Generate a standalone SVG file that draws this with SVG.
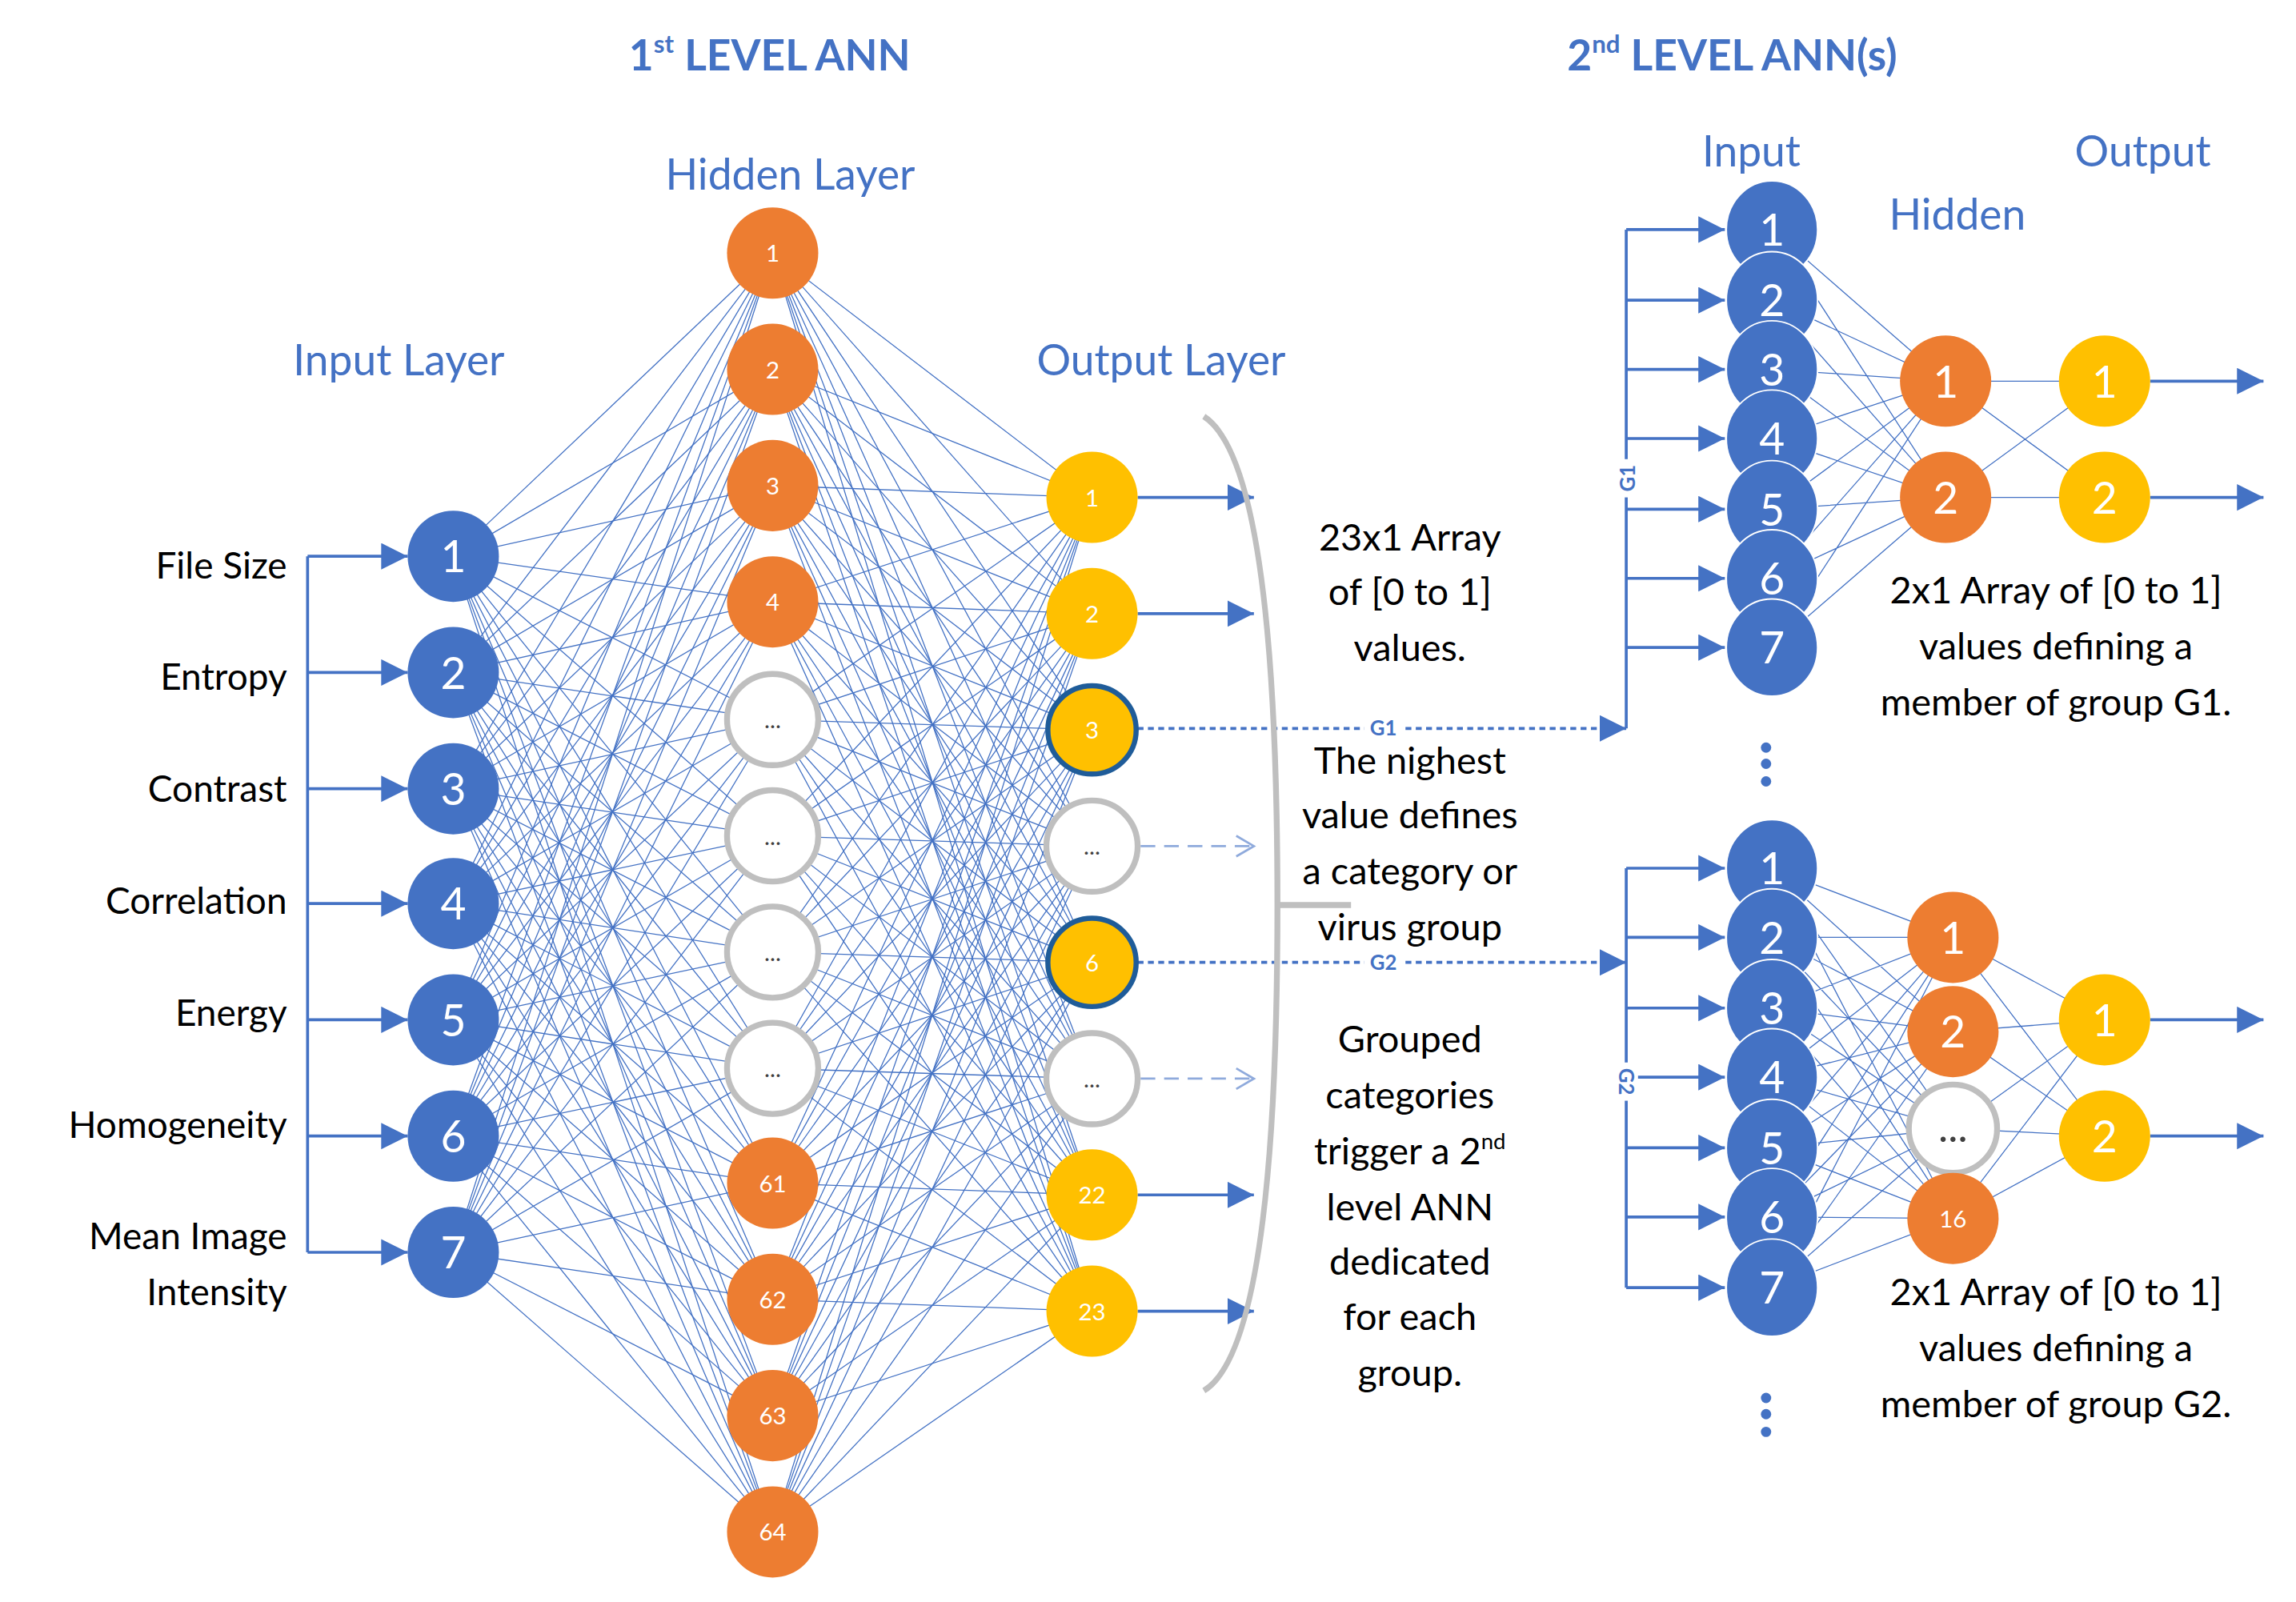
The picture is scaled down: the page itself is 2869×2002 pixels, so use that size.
<svg xmlns="http://www.w3.org/2000/svg" width="2869" height="2002" viewBox="0 0 2869 2002">
<defs>
<style>
text{font-family:Lato,"Open Sans","Liberation Sans",sans-serif}
.t{fill:#4472C4;font-size:29px;text-anchor:middle}
.h{fill:#4472C4;font-size:29px;font-weight:bold;text-anchor:middle}
.lab{fill:#000;font-size:25px;text-anchor:end}
.d{fill:#000;font-size:25.5px;text-anchor:middle}
.w{stroke:#4472C4;stroke-width:0.7;fill:none;stroke-linejoin:round}
.a{stroke:#4472C4;stroke-width:2;fill:none}
.in{fill:#4472C4}
.hid{fill:#ED7D31}
.out{fill:#FFC000}
.emp{fill:#fff;stroke:#BFBFBF;stroke-width:4}
.nb{fill:#fff;font-size:30px;text-anchor:middle}
.ns{fill:#fff;font-size:16px;text-anchor:middle}
.ne{fill:#404040;font-size:16px;text-anchor:middle}
.e2{fill:#4472C4;stroke:#fff;stroke-width:1}
.gl{fill:#4472C4;font-size:14px;font-weight:bold;text-anchor:middle}
</style>
<marker id="ar" markerUnits="userSpaceOnUse" markerWidth="20" markerHeight="20" refX="18" refY="9" orient="auto"><path d="M0 0 L18 9 L0 18Z" fill="#4472C4"/></marker>
<marker id="ao" markerUnits="userSpaceOnUse" markerWidth="20" markerHeight="20" refX="14" refY="8" orient="auto"><path d="M2 1 L14 8 L2 15" fill="none" stroke="#8FAADC" stroke-width="1.5"/></marker>
</defs>
<rect width="2869" height="2002" fill="#fff"/>
<g transform="scale(1.839)">
<g id="titles">
<text class="h" x="523" y="48">1<tspan font-size="17" dy="-12">st</tspan><tspan dy="12"> LEVEL ANN</tspan></text>
<text class="h" x="1177" y="48">2<tspan font-size="17" dy="-12">nd</tspan><tspan dy="12"> LEVEL ANN(s)</tspan></text>
<text class="t" x="537" y="129">Hidden Layer</text>
<text class="t" x="271" y="255">Input Layer</text>
<text class="t" x="789" y="255">Output Layer</text>
<text class="t" x="1190" y="113">Input</text>
<text class="t" x="1330" y="156">Hidden</text>
<text class="t" x="1456" y="113">Output</text>
</g>
<g id="connectors">
<path class="w" d="M308 378 L525 172 308 378 525 251 308 378 525 330 308 378 525 409 308 378 525 489 308 378 525 568 308 378 525 647 308 378 525 726 308 378 525 804 308 378 525 883 308 378 525 962 308 378 525 1041"/>
<path class="w" d="M308 457 L525 172 308 457 525 251 308 457 525 330 308 457 525 409 308 457 525 489 308 457 525 568 308 457 525 647 308 457 525 726 308 457 525 804 308 457 525 883 308 457 525 962 308 457 525 1041"/>
<path class="w" d="M308 536 L525 172 308 536 525 251 308 536 525 330 308 536 525 409 308 536 525 489 308 536 525 568 308 536 525 647 308 536 525 726 308 536 525 804 308 536 525 883 308 536 525 962 308 536 525 1041"/>
<path class="w" d="M308 614 L525 172 308 614 525 251 308 614 525 330 308 614 525 409 308 614 525 489 308 614 525 568 308 614 525 647 308 614 525 726 308 614 525 804 308 614 525 883 308 614 525 962 308 614 525 1041"/>
<path class="w" d="M308 693 L525 172 308 693 525 251 308 693 525 330 308 693 525 409 308 693 525 489 308 693 525 568 308 693 525 647 308 693 525 726 308 693 525 804 308 693 525 883 308 693 525 962 308 693 525 1041"/>
<path class="w" d="M308 772 L525 172 308 772 525 251 308 772 525 330 308 772 525 409 308 772 525 489 308 772 525 568 308 772 525 647 308 772 525 726 308 772 525 804 308 772 525 883 308 772 525 962 308 772 525 1041"/>
<path class="w" d="M308 851 L525 172 308 851 525 251 308 851 525 330 308 851 525 409 308 851 525 489 308 851 525 568 308 851 525 647 308 851 525 726 308 851 525 804 308 851 525 883 308 851 525 962 308 851 525 1041"/>
<path class="w" d="M742 338 L525 172 742 338 525 251 742 338 525 330 742 338 525 409 742 338 525 489 742 338 525 568 742 338 525 647 742 338 525 726 742 338 525 804 742 338 525 883 742 338 525 962 742 338 525 1041"/>
<path class="w" d="M742 417 L525 172 742 417 525 251 742 417 525 330 742 417 525 409 742 417 525 489 742 417 525 568 742 417 525 647 742 417 525 726 742 417 525 804 742 417 525 883 742 417 525 962 742 417 525 1041"/>
<path class="w" d="M742 496 L525 172 742 496 525 251 742 496 525 330 742 496 525 409 742 496 525 489 742 496 525 568 742 496 525 647 742 496 525 726 742 496 525 804 742 496 525 883 742 496 525 962 742 496 525 1041"/>
<path class="w" d="M742 575 L525 172 742 575 525 251 742 575 525 330 742 575 525 409 742 575 525 489 742 575 525 568 742 575 525 647 742 575 525 726 742 575 525 804 742 575 525 883 742 575 525 962 742 575 525 1041"/>
<path class="w" d="M742 654 L525 172 742 654 525 251 742 654 525 330 742 654 525 409 742 654 525 489 742 654 525 568 742 654 525 647 742 654 525 726 742 654 525 804 742 654 525 883 742 654 525 962 742 654 525 1041"/>
<path class="w" d="M742 733 L525 172 742 733 525 251 742 733 525 330 742 733 525 409 742 733 525 489 742 733 525 568 742 733 525 647 742 733 525 726 742 733 525 804 742 733 525 883 742 733 525 962 742 733 525 1041"/>
<path class="w" d="M742 812 L525 172 742 812 525 251 742 812 525 330 742 812 525 409 742 812 525 489 742 812 525 568 742 812 525 647 742 812 525 726 742 812 525 804 742 812 525 883 742 812 525 962 742 812 525 1041"/>
<path class="w" d="M742 891 L525 172 742 891 525 251 742 891 525 330 742 891 525 409 742 891 525 489 742 891 525 568 742 891 525 647 742 891 525 726 742 891 525 804 742 891 525 883 742 891 525 962 742 891 525 1041"/>
<path class="w" d="M1322 259 L1204 156 1322 259 1204 204 1322 259 1204 251 1322 259 1204 298 1322 259 1204 346 1322 259 1204 393 1322 259 1204 440 M1322 338 L1204 156 1322 338 1204 204 1322 338 1204 251 1322 338 1204 298 1322 338 1204 346 1322 338 1204 393 1322 338 1204 440 M1322 259 L1430 259 M1322 259 L1430 338 M1322 338 L1430 259 M1322 338 L1430 338"/>
<path class="w" d="M1327 637 L1204 590 1327 637 1204 637 1327 637 1204 685 1327 637 1204 732 1327 637 1204 780 1327 637 1204 827 1327 637 1204 875 M1327 701 L1204 590 1327 701 1204 637 1327 701 1204 685 1327 701 1204 732 1327 701 1204 780 1327 701 1204 827 1327 701 1204 875 M1327 767 L1204 590 1327 767 1204 637 1327 767 1204 685 1327 767 1204 732 1327 767 1204 780 1327 767 1204 827 1327 767 1204 875 M1327 828 L1204 590 1327 828 1204 637 1327 828 1204 685 1327 828 1204 732 1327 828 1204 780 1327 828 1204 827 1327 828 1204 875"/>
<path class="w" d="M1327 637 L1430 693 M1327 637 L1430 772 M1327 701 L1430 693 M1327 701 L1430 772 M1327 767 L1430 693 M1327 767 L1430 772 M1327 828 L1430 693 M1327 828 L1430 772"/>
<path class="a" d="M209 378 V851"/>
<path class="a" marker-end="url(#ar)" d="M209 378 H277"/>
<path class="a" marker-end="url(#ar)" d="M209 457 H277"/>
<path class="a" marker-end="url(#ar)" d="M209 536 H277"/>
<path class="a" marker-end="url(#ar)" d="M209 614 H277"/>
<path class="a" marker-end="url(#ar)" d="M209 693 H277"/>
<path class="a" marker-end="url(#ar)" d="M209 772 H277"/>
<path class="a" marker-end="url(#ar)" d="M209 851 H277"/>
<path class="a" marker-end="url(#ar)" d="M773 338 H852"/>
<path class="a" marker-end="url(#ar)" d="M773 417 H852"/>
<path class="a" marker-end="url(#ar)" d="M773 812 H852"/>
<path class="a" marker-end="url(#ar)" d="M773 891 H852"/>
<path stroke="#8FAADC" stroke-width="1.5" stroke-dasharray="10 6" fill="none" marker-end="url(#ao)" d="M775 575 H852"/>
<path stroke="#8FAADC" stroke-width="1.5" stroke-dasharray="10 6" fill="none" marker-end="url(#ao)" d="M775 733 H852"/>
<path stroke="#4472C4" stroke-width="2" stroke-dasharray="4 3" fill="none" marker-end="url(#ar)" d="M773 495 H1105"/>
<path stroke="#4472C4" stroke-width="2" stroke-dasharray="4 3" fill="none" marker-end="url(#ar)" d="M773 654 H1105"/>
<path class="a" d="M1105 156 V495 M1105 590 V875"/>
<path class="a" marker-end="url(#ar)" d="M1105 156 H1172"/>
<path class="a" marker-end="url(#ar)" d="M1105 204 H1172"/>
<path class="a" marker-end="url(#ar)" d="M1105 251 H1172"/>
<path class="a" marker-end="url(#ar)" d="M1105 298 H1172"/>
<path class="a" marker-end="url(#ar)" d="M1105 346 H1172"/>
<path class="a" marker-end="url(#ar)" d="M1105 393 H1172"/>
<path class="a" marker-end="url(#ar)" d="M1105 440 H1172"/>
<path class="a" marker-end="url(#ar)" d="M1105 590 H1172"/>
<path class="a" marker-end="url(#ar)" d="M1105 637 H1172"/>
<path class="a" marker-end="url(#ar)" d="M1105 685 H1172"/>
<path class="a" marker-end="url(#ar)" d="M1105 732 H1172"/>
<path class="a" marker-end="url(#ar)" d="M1105 780 H1172"/>
<path class="a" marker-end="url(#ar)" d="M1105 827 H1172"/>
<path class="a" marker-end="url(#ar)" d="M1105 875 H1172"/>
<path class="a" marker-end="url(#ar)" d="M1461 259 H1538"/>
<path class="a" marker-end="url(#ar)" d="M1461 338 H1538"/>
<path class="a" marker-end="url(#ar)" d="M1461 693 H1538"/>
<path class="a" marker-end="url(#ar)" d="M1461 772 H1538"/>
<path stroke="#BFBFBF" stroke-width="4" fill="none" d="M818 283 Q868 315 868 615 Q868 915 818 945 M868 615 H918"/>
<rect x="927" y="488" width="26" height="14" fill="#fff"/>
<rect x="927" y="647" width="26" height="14" fill="#fff"/>
<text class="gl" x="940" y="500">G1</text>
<text class="gl" x="940" y="659">G2</text>
<rect x="1099" y="312" width="14" height="26" fill="#fff"/>
<rect x="1099" y="722" width="14" height="26" fill="#fff"/>
<text class="gl" transform="translate(1111 325) rotate(-90)">G1</text>
<text class="gl" transform="translate(1100 735) rotate(90)">G2</text>
</g>
<g id="labels">
<text class="lab" x="195" y="393">File Size</text>
<text class="lab" x="195" y="469">Entropy</text>
<text class="lab" x="195" y="545">Contrast</text>
<text class="lab" x="195" y="621">Correlation</text>
<text class="lab" x="195" y="697">Energy</text>
<text class="lab" x="195" y="773">Homogeneity</text>
<text class="lab" x="195" y="849">Mean Image</text>
<text class="lab" x="195" y="887">Intensity</text>
</g>
<g id="desc">
<text class="d" x="958" y="374">23x1 Array</text>
<text class="d" x="958" y="411">of [0 to 1]</text>
<text class="d" x="958" y="449">values.</text>
<text class="d" x="958" y="526">The nighest</text>
<text class="d" x="958" y="563">value defines</text>
<text class="d" x="958" y="601">a category or</text>
<text class="d" x="958" y="639">virus group</text>
<text class="d" x="958" y="715">Grouped</text>
<text class="d" x="958" y="753">categories</text>
<text class="d" x="958" y="791">trigger a 2<tspan font-size="15" dy="-10">nd</tspan></text>
<text class="d" x="958" y="829">level ANN</text>
<text class="d" x="958" y="866">dedicated</text>
<text class="d" x="958" y="904">for each</text>
<text class="d" x="958" y="942">group.</text>
<text class="d" x="1397" y="410">2x1 Array of [0 to 1]</text>
<text class="d" x="1397" y="448">values defining a</text>
<text class="d" x="1397" y="486">member of group G1.</text>
<text class="d" x="1397" y="887">2x1 Array of [0 to 1]</text>
<text class="d" x="1397" y="925">values defining a</text>
<text class="d" x="1397" y="963">member of group G2.</text>
<circle cx="1200" cy="508" r="3.5" fill="#4472C4"/><circle cx="1200" cy="519" r="3.5" fill="#4472C4"/><circle cx="1200" cy="531" r="3.5" fill="#4472C4"/>
<circle cx="1200" cy="950" r="3.5" fill="#4472C4"/><circle cx="1200" cy="961" r="3.5" fill="#4472C4"/><circle cx="1200" cy="973" r="3.5" fill="#4472C4"/>
</g>
<g id="input1">
<g id="i1"><circle class="in" cx="308" cy="378" r="31"/><text class="nb" x="308" y="389">1</text></g>
<g id="i2"><circle class="in" cx="308" cy="457" r="31"/><text class="nb" x="308" y="468">2</text></g>
<g id="i3"><circle class="in" cx="308" cy="536" r="31"/><text class="nb" x="308" y="547">3</text></g>
<g id="i4"><circle class="in" cx="308" cy="614" r="31"/><text class="nb" x="308" y="625">4</text></g>
<g id="i5"><circle class="in" cx="308" cy="693" r="31"/><text class="nb" x="308" y="704">5</text></g>
<g id="i6"><circle class="in" cx="308" cy="772" r="31"/><text class="nb" x="308" y="783">6</text></g>
<g id="i7"><circle class="in" cx="308" cy="851" r="31"/><text class="nb" x="308" y="862">7</text></g>
</g>
<g id="hidden1">
<g id="h1"><circle class="hid" cx="525" cy="172" r="31"/><text class="ns" x="525" y="178">1</text></g>
<g id="h2"><circle class="hid" cx="525" cy="251" r="31"/><text class="ns" x="525" y="257">2</text></g>
<g id="h3"><circle class="hid" cx="525" cy="330" r="31"/><text class="ns" x="525" y="336">3</text></g>
<g id="h4"><circle class="hid" cx="525" cy="409" r="31"/><text class="ns" x="525" y="415">4</text></g>
<g id="h5"><circle class="emp" cx="525" cy="489" r="31"/><text class="ne" x="525" y="495">...</text></g>
<g id="h6"><circle class="emp" cx="525" cy="568" r="31"/><text class="ne" x="525" y="574">...</text></g>
<g id="h7"><circle class="emp" cx="525" cy="647" r="31"/><text class="ne" x="525" y="653">...</text></g>
<g id="h8"><circle class="emp" cx="525" cy="726" r="31"/><text class="ne" x="525" y="732">...</text></g>
<g id="h61"><circle class="hid" cx="525" cy="804" r="31"/><text class="ns" x="525" y="810">61</text></g>
<g id="h62"><circle class="hid" cx="525" cy="883" r="31"/><text class="ns" x="525" y="889">62</text></g>
<g id="h63"><circle class="hid" cx="525" cy="962" r="31"/><text class="ns" x="525" y="968">63</text></g>
<g id="h64"><circle class="hid" cx="525" cy="1041" r="31"/><text class="ns" x="525" y="1047">64</text></g>
</g>
<g id="output1">
<g id="o1"><circle class="out" cx="742" cy="338" r="31"/><text class="ns" x="742" y="344">1</text></g>
<g id="o2"><circle class="out" cx="742" cy="417" r="31"/><text class="ns" x="742" y="423">2</text></g>
<g id="o3"><circle class="out" cx="742" cy="496" r="30" stroke="#1F5C99" stroke-width="3.5"/><text class="ns" x="742" y="502">3</text></g>
<g id="o4"><circle class="emp" cx="742" cy="575" r="31"/><text class="ne" x="742" y="581">...</text></g>
<g id="o6"><circle class="out" cx="742" cy="654" r="30" stroke="#1F5C99" stroke-width="3.5"/><text class="ns" x="742" y="660">6</text></g>
<g id="o7"><circle class="emp" cx="742" cy="733" r="31"/><text class="ne" x="742" y="739">...</text></g>
<g id="o22"><circle class="out" cx="742" cy="812" r="31"/><text class="ns" x="742" y="818">22</text></g>
<g id="o23"><circle class="out" cx="742" cy="891" r="31"/><text class="ns" x="742" y="897">23</text></g>
</g>
<g id="g1net">
<g id="g1i1"><ellipse class="e2" cx="1204" cy="156" rx="31" ry="33"/><text class="nb" x="1204" y="167">1</text></g>
<g id="g1i2"><ellipse class="e2" cx="1204" cy="204" rx="31" ry="33"/><text class="nb" x="1204" y="215">2</text></g>
<g id="g1i3"><ellipse class="e2" cx="1204" cy="251" rx="31" ry="33"/><text class="nb" x="1204" y="262">3</text></g>
<g id="g1i4"><ellipse class="e2" cx="1204" cy="298" rx="31" ry="33"/><text class="nb" x="1204" y="309">4</text></g>
<g id="g1i5"><ellipse class="e2" cx="1204" cy="346" rx="31" ry="33"/><text class="nb" x="1204" y="357">5</text></g>
<g id="g1i6"><ellipse class="e2" cx="1204" cy="393" rx="31" ry="33"/><text class="nb" x="1204" y="404">6</text></g>
<g id="g1i7"><ellipse class="e2" cx="1204" cy="440" rx="31" ry="33"/><text class="nb" x="1204" y="451">7</text></g>
<g id="g1h1"><circle class="hid" cx="1322" cy="259" r="31"/><text class="nb" x="1322" y="270">1</text></g>
<g id="g1h2"><circle class="hid" cx="1322" cy="338" r="31"/><text class="nb" x="1322" y="349">2</text></g>
<g id="g1o1"><circle class="out" cx="1430" cy="259" r="31"/><text class="nb" x="1430" y="270">1</text></g>
<g id="g1o2"><circle class="out" cx="1430" cy="338" r="31"/><text class="nb" x="1430" y="349">2</text></g>
</g>
<g id="g2net">
<g id="g2i1"><ellipse class="e2" cx="1204" cy="590" rx="31" ry="33"/><text class="nb" x="1204" y="601">1</text></g>
<g id="g2i2"><ellipse class="e2" cx="1204" cy="637" rx="31" ry="33"/><text class="nb" x="1204" y="648">2</text></g>
<g id="g2i3"><ellipse class="e2" cx="1204" cy="685" rx="31" ry="33"/><text class="nb" x="1204" y="696">3</text></g>
<g id="g2i4"><ellipse class="e2" cx="1204" cy="732" rx="31" ry="33"/><text class="nb" x="1204" y="743">4</text></g>
<g id="g2i5"><ellipse class="e2" cx="1204" cy="780" rx="31" ry="33"/><text class="nb" x="1204" y="791">5</text></g>
<g id="g2i6"><ellipse class="e2" cx="1204" cy="827" rx="31" ry="33"/><text class="nb" x="1204" y="838">6</text></g>
<g id="g2i7"><ellipse class="e2" cx="1204" cy="875" rx="31" ry="33"/><text class="nb" x="1204" y="886">7</text></g>
<g id="g2h1"><circle class="hid" cx="1327" cy="637" r="31"/><text class="nb" x="1327" y="648">1</text></g>
<g id="g2h2"><circle class="hid" cx="1327" cy="701" r="31"/><text class="nb" x="1327" y="712">2</text></g>
<g id="g2h3"><circle class="emp" cx="1327" cy="767" r="30"/><text x="1327" y="776" fill="#404040" font-size="28" text-anchor="middle">...</text></g>
<g id="g2h16"><circle class="hid" cx="1327" cy="828" r="31"/><text class="ns" x="1327" y="834">16</text></g>
<g id="g2o1"><circle class="out" cx="1430" cy="693" r="31"/><text class="nb" x="1430" y="704">1</text></g>
<g id="g2o2"><circle class="out" cx="1430" cy="772" r="31"/><text class="nb" x="1430" y="783">2</text></g>
</g>
</g>
</svg>
